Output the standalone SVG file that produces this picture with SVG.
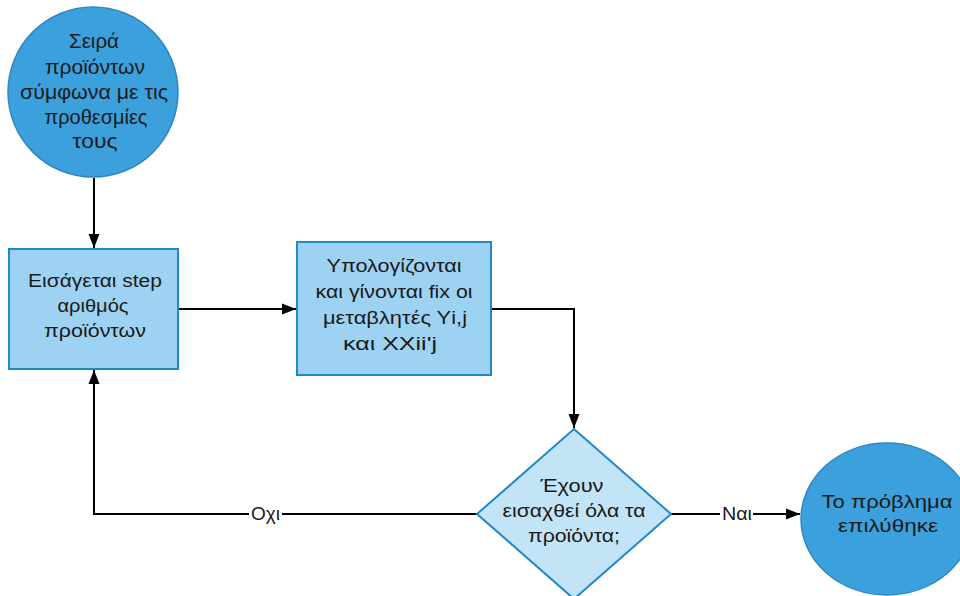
<svg xmlns="http://www.w3.org/2000/svg" width="960" height="596" viewBox="0 0 960 596">
<defs>
<marker id="arr" markerWidth="14" markerHeight="12" refX="14" refY="6" orient="auto" markerUnits="userSpaceOnUse">
<path d="M0,0.5 L14,6 L0,11.5 Z" fill="#000"/>
</marker>
<style>
text{font-family:"Liberation Sans",Arial,sans-serif;font-size:18px;fill:#1a1a1a;text-anchor:middle}
text.big{font-size:21px}
.circ{fill:#3ba0dc;stroke:#2a87c4;stroke-width:1.5}
.rect{fill:#9dd2f2;stroke:#1f88c9;stroke-width:2}
.dia{fill:#c3e4f7;stroke:#1f88c9;stroke-width:2}
.ln{fill:none;stroke:#000;stroke-width:2}
.lbl{fill:#fff}
</style>
</defs>
<rect width="960" height="596" fill="#fff"/>
<g id="connectors">
<path class="ln" d="M94,178 L94,248" marker-end="url(#arr)"/>
<path class="ln" d="M178,309 L296,309" marker-end="url(#arr)"/>
<path class="ln" d="M491,309 L574,309 L574,428" marker-end="url(#arr)"/>
<path class="ln" d="M477,514 L94,514 L94,370" marker-end="url(#arr)"/>
<path class="ln" d="M671,514 L800,514" marker-end="url(#arr)"/>
<rect class="lbl" x="249" y="503" width="33" height="22"/>
<text x="265.5" y="520" textLength="29" lengthAdjust="spacingAndGlyphs">Οχι</text>
<rect class="lbl" x="720" y="503" width="33" height="22"/>
<text x="737" y="520" textLength="30" lengthAdjust="spacingAndGlyphs">Ναι</text>
</g>
<g id="start">
<circle class="circ" cx="93" cy="92" r="85"/>
<text class="big" x="94" y="48" textLength="50" lengthAdjust="spacingAndGlyphs">Σειρά</text>
<text class="big" x="95" y="73.5" textLength="100" lengthAdjust="spacingAndGlyphs">προϊόντων</text>
<text class="big" x="94" y="99" textLength="148" lengthAdjust="spacingAndGlyphs">σύμφωνα με τις</text>
<text class="big" x="96" y="124" textLength="103" lengthAdjust="spacingAndGlyphs">προθεσμίες</text>
<text class="big" x="95" y="148" textLength="45" lengthAdjust="spacingAndGlyphs">τους</text>
</g>
<g id="step1">
<rect class="rect" x="9" y="249" width="169" height="120"/>
<text x="95" y="287" textLength="134" lengthAdjust="spacingAndGlyphs">Εισάγεται step</text>
<text x="93" y="312" textLength="71" lengthAdjust="spacingAndGlyphs">αριθμός</text>
<text x="95" y="337" textLength="102" lengthAdjust="spacingAndGlyphs">προϊόντων</text>
</g>
<g id="step2">
<rect class="rect" x="297" y="242" width="194" height="133"/>
<text x="394" y="272" textLength="135" lengthAdjust="spacingAndGlyphs">Υπολογίζονται</text>
<text x="394" y="298" textLength="157" lengthAdjust="spacingAndGlyphs">και γίνονται fix οι</text>
<text x="395" y="324" textLength="144" lengthAdjust="spacingAndGlyphs">μεταβλητές Υi,j</text>
<text x="390" y="350" textLength="94" lengthAdjust="spacingAndGlyphs">και ΧΧii'j</text>
</g>
<g id="decision">
<polygon class="dia" points="574,429 671,514 574,599 477,514"/>
<text x="572" y="492" textLength="63" lengthAdjust="spacingAndGlyphs">Έχουν</text>
<text x="574" y="517" textLength="143" lengthAdjust="spacingAndGlyphs">εισαχθεί όλα τα</text>
<text x="574" y="542" textLength="92" lengthAdjust="spacingAndGlyphs">προϊόντα;</text>
</g>
<g id="end">
<ellipse class="circ" cx="887" cy="519" rx="86" ry="76"/>
<text x="887" y="508" textLength="131" lengthAdjust="spacingAndGlyphs">Το πρόβλημα</text>
<text x="888" y="532" textLength="100" lengthAdjust="spacingAndGlyphs">επιλύθηκε</text>
</g>
</svg>
